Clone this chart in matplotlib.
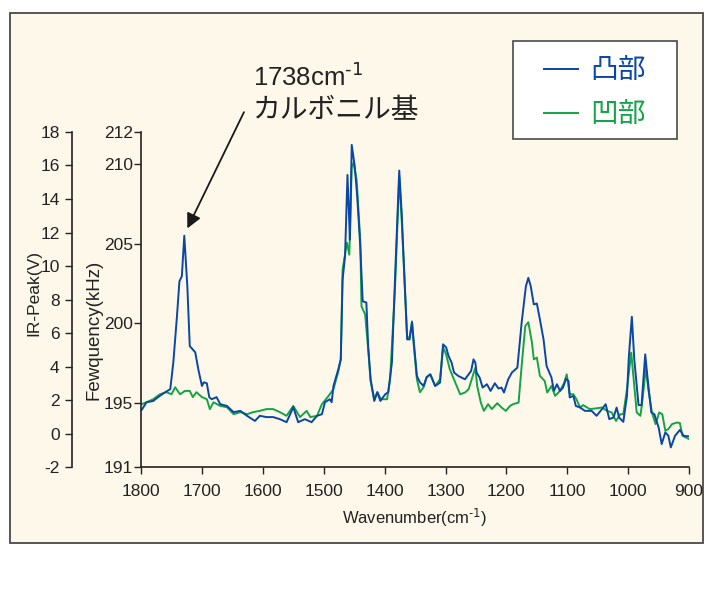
import matplotlib
matplotlib.use('Agg')
import matplotlib.pyplot as plt
from matplotlib.patches import Rectangle

plt.rcParams['font.family'] = ['Liberation Sans', 'Noto Sans CJK JP', 'DejaVu Sans']
plt.rcParams['mathtext.default'] = 'regular'
plt.rcParams['axes.unicode_minus'] = False

# 凸部 (blue) : wavenumber (cm-1) / frequency (kHz)
wn_blue = [1799, 1791, 1780, 1772, 1763, 1752, 1747, 1741, 1737, 1733, 1729, 1724, 1720,
           1711, 1706, 1700, 1697, 1692, 1688, 1684, 1676, 1670, 1659, 1648, 1637, 1626,
           1613, 1605, 1594, 1583, 1572, 1561, 1550, 1542, 1531, 1520, 1511, 1503, 1498,
           1490, 1487, 1484, 1476, 1472, 1469, 1465, 1461, 1457, 1454, 1449, 1445, 1440,
           1436, 1430, 1427, 1423, 1417, 1412, 1407, 1399, 1394, 1388, 1383, 1376, 1372,
           1366, 1363, 1359, 1355, 1353, 1347, 1342, 1336, 1331, 1325, 1317, 1309, 1304,
           1299, 1295, 1290, 1286, 1279, 1268, 1262, 1258, 1254, 1251, 1249, 1244, 1239,
           1232, 1226, 1219, 1213, 1208, 1204, 1197, 1191, 1182, 1175, 1168, 1164, 1160,
           1155, 1150, 1145, 1139, 1134, 1126, 1122, 1117, 1112, 1107, 1102, 1098, 1096,
           1090, 1086, 1079, 1071, 1060, 1052, 1043, 1037, 1031, 1024, 1019, 1015, 1008,
           1002, 999, 994, 990, 983, 978, 977, 972, 968, 962, 957, 950, 945, 939, 934,
           930, 923, 915, 909, 900]
khz_blue = [194.58, 195.06, 195.14, 195.38, 195.63, 195.88, 197.56, 200.46, 202.64, 202.96,
            205.50, 202.33, 198.58, 198.19, 197.13, 196.08, 196.31, 196.25, 195.38, 195.25,
            195.38, 194.94, 194.83, 194.44, 194.52, 194.21, 193.89, 194.21, 194.13, 194.13,
            194.00, 193.81, 194.75, 193.81, 194.00, 193.81, 194.21, 194.31, 195.06, 195.25,
            195.06, 196.08, 197.13, 197.75, 202.75, 204.21, 209.31, 205.25, 211.19, 209.83,
            207.96, 204.83, 201.39, 201.31, 198.58, 196.50, 195.14, 195.69, 195.14, 195.56,
            195.69, 197.56, 202.75, 209.58, 206.94, 201.71, 199.00, 199.00, 200.06, 199.21,
            196.71, 196.31, 196.08, 196.63, 196.81, 196.08, 196.29, 198.69, 198.50, 197.96,
            197.54, 196.92, 196.71, 196.50, 196.81, 197.02, 197.75, 197.54, 196.92, 196.61,
            195.98, 196.19, 195.77, 196.25, 195.92, 195.98, 195.67, 196.50, 196.92, 197.23,
            200.04, 202.33, 202.86, 202.33, 201.19, 201.25, 200.25, 199.00, 197.33, 196.61,
            195.77, 196.19, 195.77, 195.98, 196.54, 196.39, 195.36, 195.46, 194.83, 194.73,
            194.52, 194.52, 194.21, 194.63, 194.94, 194.00, 194.11, 194.73, 194.11, 193.83,
            195.46, 197.86, 200.42, 197.75, 194.88, 194.88, 195.46, 198.06, 196.50, 194.42,
            194.31, 193.48, 192.44, 193.17, 192.96, 192.23, 192.96, 193.33, 192.96, 192.92]

# 凹部 (green)
wn_green = [1799, 1791, 1780, 1769, 1758, 1750, 1744, 1736, 1728, 1720, 1715, 1709, 1700,
            1692, 1687, 1681, 1670, 1659, 1648, 1637, 1626, 1616, 1605, 1594, 1583, 1572,
            1561, 1550, 1539, 1528, 1522, 1511, 1503, 1492, 1484, 1476, 1472, 1469, 1462,
            1458, 1454, 1451, 1446, 1440, 1438, 1432, 1427, 1423, 1417, 1412, 1406, 1396,
            1391, 1383, 1376, 1372, 1366, 1363, 1359, 1355, 1353, 1347, 1342, 1336, 1331,
            1325, 1317, 1309, 1304, 1299, 1293, 1284, 1276, 1268, 1262, 1257, 1251, 1248,
            1242, 1237, 1230, 1224, 1215, 1208, 1201, 1194, 1189, 1180, 1175, 1169, 1164,
            1158, 1155, 1150, 1145, 1137, 1133, 1126, 1120, 1112, 1105, 1101, 1096, 1090,
            1085, 1079, 1074, 1063, 1054, 1043, 1035, 1027, 1020, 1013, 1008, 1002, 995,
            992, 986, 980, 977, 971, 967, 961, 955, 949, 944, 939, 934, 928, 920, 915,
            911, 900]
khz_green = [194.94, 195.06, 195.25, 195.56, 195.69, 195.56, 196.00, 195.56, 195.77, 195.77,
             195.38, 195.69, 195.38, 195.25, 194.63, 195.06, 194.83, 194.75, 194.31, 194.44,
             194.31, 194.44, 194.52, 194.63, 194.63, 194.44, 194.21, 194.83, 194.13, 194.52,
             194.13, 194.21, 194.94, 195.46, 195.88, 197.00, 197.75, 203.38, 205.06, 204.31,
             209.83, 210.06, 209.00, 205.25, 201.08, 200.56, 198.38, 196.38, 195.25, 195.69,
             195.25, 195.25, 196.50, 202.13, 209.21, 206.50, 201.50, 199.13, 199.13, 200.13,
             199.00, 196.50, 195.69, 196.00, 196.63, 196.81, 196.08, 196.50, 198.50, 198.06,
             197.13, 196.29, 195.56, 195.67, 195.88, 196.50, 197.23, 196.08, 195.04, 194.52,
             194.94, 194.63, 195.00, 194.73, 194.52, 194.83, 194.94, 195.04, 197.33, 199.83,
             200.08, 198.79, 197.75, 197.86, 196.71, 196.39, 195.67, 196.08, 195.46, 195.77,
             196.29, 196.81, 195.56, 195.56, 195.25, 194.73, 194.88, 194.63, 194.67, 194.73,
             194.52, 194.42, 193.89, 194.31, 194.31, 195.88, 198.17, 196.92, 194.42, 194.21,
             195.04, 197.23, 195.88, 194.42, 193.69, 194.42, 194.31, 193.27, 193.38, 193.69,
             193.79, 193.75, 192.96, 192.75]

series_names = ['凸部', '凹部']
series_colors = ['#0a46a6', '#12a445']
wn_ticks = list(range(1800, 899, -100))
freq_ticks = [191, 195, 200, 205, 210, 212]
ir_ticks = list(range(-2, 19, 2))

fig = plt.figure(figsize=(7.16, 6.03), dpi=100)

# cream panel behind everything
fig.add_artist(Rectangle((0.014, 0.0995), 0.968, 0.879, transform=fig.transFigure,
                         fc='#fef8ea', ec='#4a4a4a', lw=1.3, zorder=-1))

ax = fig.add_axes([0.197, 0.2255, 0.7654, 0.5556])
ax.set_facecolor('none')
ax.plot(wn_green, khz_green, color=series_colors[1], lw=1.4, label=series_names[1])
ax.plot(wn_blue, khz_blue, color=series_colors[0], lw=1.4, label=series_names[0])
ax.set_xlim(1800, 900)
ax.set_ylim(191, 212)
ax.set_xticks(wn_ticks)
ax.set_yticks(freq_ticks)
for s in ['top', 'right']:
    ax.spines[s].set_visible(False)
for s in ['left', 'bottom']:
    ax.spines[s].set_color('#222222')
    ax.spines[s].set_linewidth(1.2)
ax.tick_params(axis='both', direction='out', length=5, width=1, labelsize=12.5,
               colors='#222222')
ax.tick_params(axis='y', pad=1)
ax.tick_params(axis='x', pad=7)
ax.set_xlabel(r'Wavenumber(cm$^{\text{-1}}$)', fontsize=12, color='#222222', labelpad=6)
ax.set_ylabel('Fewquency(kHz)', fontsize=13.5, color='#222222')
ax.yaxis.set_label_coords(-0.071, 0.41)

# second (IR-Peak) scale on an offset left spine
ax2 = ax.twinx()
ax2.set_ylim(-2, 18)
ax2.set_yticks(ir_ticks)
ax2.yaxis.set_ticks_position('left')
ax2.yaxis.set_label_position('left')
ax2.spines['left'].set_position(('axes', -0.126))
ax2.spines['left'].set_visible(True)
ax2.spines['left'].set_color('#222222')
ax2.spines['left'].set_linewidth(1.2)
for s in ['top', 'right', 'bottom']:
    ax2.spines[s].set_visible(False)
ax2.tick_params(axis='y', direction='out', length=5, width=1, labelsize=12.5,
                colors='#222222', pad=4)
ax2.set_ylabel('IR-Peak(V)', fontsize=12.5, color='#222222')
ax2.yaxis.set_label_coords(-0.182, 0.52)

# annotation of the carbonyl peak
ax.annotate('', xy=(1726, 205.8), xytext=(1629, 213.4),
            arrowprops=dict(arrowstyle='-|>', color='#1a1a1a', lw=1.3, mutation_scale=22),
            annotation_clip=False)
ax.text(1616, 215.45, r'1738cm$^{\text{-1}}$', fontsize=18.5, color='#222222',
        va='center', ha='left', clip_on=False)
ax.text(1616, 213.3, 'カルボニル基', fontsize=20, color='#222222',
        va='center', ha='left', clip_on=False)

# legend box
fig.add_artist(Rectangle((0.7165, 0.7695), 0.229, 0.1625, transform=fig.transFigure,
                         fc='white', ec='#4a4a4a', lw=1.2, zorder=4))
h, l = ax.get_legend_handles_labels()
leg = fig.legend(h[::-1], l[::-1], loc='center', bbox_to_anchor=(0.831, 0.844),
                 frameon=False, fontsize=20, handlelength=1.2, handletextpad=0.45,
                 labelspacing=0.65, labelcolor='linecolor')
leg.set_zorder(5)

fig.savefig('out.png', dpi=100)
